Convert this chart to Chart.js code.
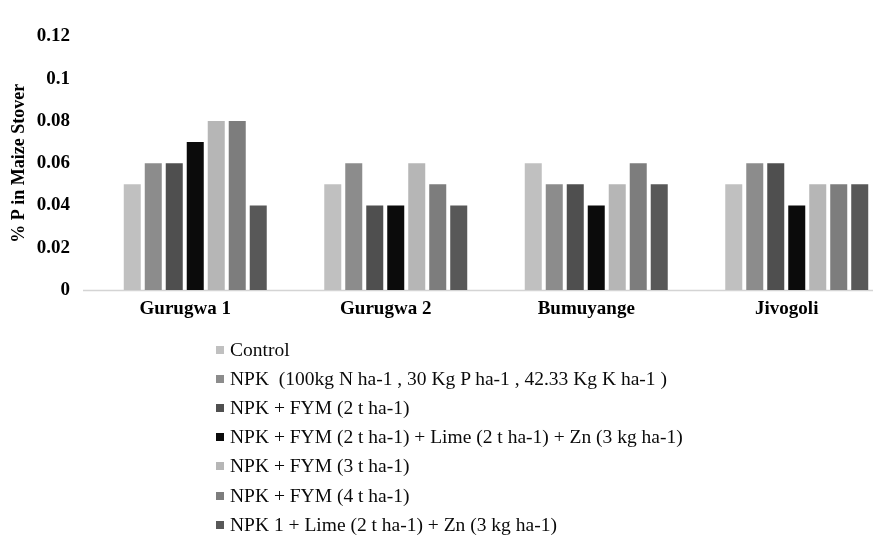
<!DOCTYPE html>
<html>
<head>
<meta charset="utf-8">
<script src="https://cdn.jsdelivr.net/npm/chart.js@4/dist/chart.umd.min.js"></script>
<style>
  html, body { margin: 0; padding: 0; background: #fff; overflow: hidden; }
  #wrap { position: relative; width: 873px; height: 539px; overflow: hidden; }
  #c { position: absolute; left: 0; top: 0; }
  #legend { position: absolute; left: 216px; top: 335px; margin: 0; padding: 0; list-style: none;
            font-family: "Liberation Serif", "Times New Roman", serif; font-size: 19.5px; color: #0a0a0a; }
  #legend li { height: 29.2px; line-height: 22px; white-space: pre; display: flex; align-items: center; }
  #legend .box { width: 8px; height: 8px; margin-right: 6px; flex: none; }
</style>
</head>
<body>
<div id="wrap">
  <canvas id="c" width="910" height="539"></canvas>
  <ul id="legend"></ul>
</div>
<script>
// Sites (x categories)
const sites = ["Gurugwa 1", "Gurugwa 2", "Bumuyange", "Jivogoli"];

// Treatments
const treatments = [
  "Control",
  "NPK  (100kg N ha-1 , 30 Kg P ha-1 , 42.33 Kg K ha-1 )",
  "NPK + FYM (2 t ha-1)",
  "NPK + FYM (2 t ha-1) + Lime (2 t ha-1) + Zn (3 kg ha-1)",
  "NPK + FYM (3 t ha-1)",
  "NPK + FYM (4 t ha-1)",
  "NPK 1 + Lime (2 t ha-1) + Zn (3 kg ha-1)"
];

// % P in maize stover, one array per treatment (order follows sites)
const control      = [0.05, 0.05, 0.06, 0.05];
const npk          = [0.06, 0.06, 0.05, 0.06];
const npkFym2      = [0.06, 0.04, 0.05, 0.06];
const npkFym2LimeZn= [0.07, 0.04, 0.04, 0.04];
const npkFym3      = [0.08, 0.06, 0.05, 0.05];
const npkFym4      = [0.08, 0.05, 0.06, 0.05];
const npk1LimeZn   = [0.04, 0.04, 0.05, 0.05];

const seriesValues = [control, npk, npkFym2, npkFym2LimeZn, npkFym3, npkFym4, npk1LimeZn];
const seriesColors = ["#c0c0c0", "#8c8c8c", "#4f4f4f", "#0b0b0b", "#b6b6b6", "#7d7d7d", "#585858"];

// Y axis ticks
const yTicks = [0, 0.02, 0.04, 0.06, 0.08, 0.1, 0.12];
const yLabels = ["0", "0.02", "0.04", "0.06", "0.08", "0.1", "0.12"];

const serif = "'Liberation Serif', 'Times New Roman', serif";

// Baseline drawn a little past the left end of the plot area
const baseline = {
  id: "baseline",
  beforeDatasetsDraw(chart) {
    const ctx = chart.ctx;
    const y = Math.round(chart.scales.y.getPixelForValue(0)) + 0.5;
    ctx.save();
    ctx.strokeStyle = "#d4d4d4";
    ctx.lineWidth = 1.5;
    ctx.beginPath();
    ctx.moveTo(83, y);
    ctx.lineTo(chart.width, y);
    ctx.stroke();
    ctx.restore();
  }
};

new Chart(document.getElementById("c"), {
  type: "bar",
  data: {
    labels: sites,
    datasets: seriesValues.map((vals, i) => ({
      label: treatments[i],
      data: vals,
      backgroundColor: seriesColors[i],
      borderWidth: 0,
      categoryPercentage: 0.733,
      barPercentage: 0.81
    }))
  },
  options: {
    responsive: false,
    animation: false,
    events: [],
    layout: { padding: { left: 0, top: 24, right: 13, bottom: 209 } },
    plugins: { legend: { display: false }, tooltip: { enabled: false } },
    scales: {
      x: {
        grid: { display: false, drawTicks: false },
        border: { display: false },
        ticks: { color: "#000", padding: 8, labelOffset: -10, font: { family: serif, size: 19, weight: "bold" } },
        afterFit(scale) { scale.height = 40; }
      },
      y: {
        min: 0,
        max: 0.12,
        afterBuildTicks(scale) { scale.ticks = yTicks.map(v => ({ value: v })); },
        grid: { display: false, drawTicks: false },
        border: { display: false },
        ticks: {
          color: "#000",
          padding: 25,
          font: { family: serif, size: 19, weight: "bold" },
          callback(value) { const k = yTicks.indexOf(value); return k >= 0 ? yLabels[k] : ""; }
        },
        title: {
          display: true,
          text: "% P in Maize Stover",
          color: "#000",
          padding: { top: 9, bottom: 0 },
          font: { family: serif, size: 18, weight: "bold" }
        },
        afterFit(scale) { scale.width = 95; }
      }
    }
  },
  plugins: [baseline]
});

// Legend list, one row per treatment
const legend = document.getElementById("legend");
treatments.forEach((t, i) => {
  const li = document.createElement("li");
  const box = document.createElement("span");
  box.className = "box";
  box.style.background = seriesColors[i];
  li.appendChild(box);
  li.appendChild(document.createTextNode(t));
  legend.appendChild(li);
});
</script>
</body>
</html>
